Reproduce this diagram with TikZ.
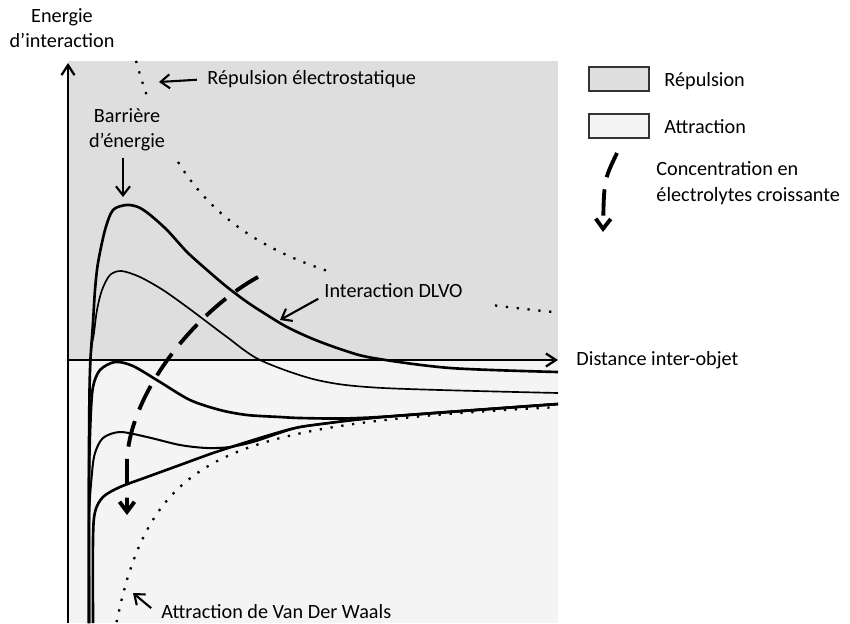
\documentclass[tikz,border=0pt]{standalone}
\usepackage{fontspec}
\setmainfont{Carlito}
\usepackage{tikz}
\usetikzlibrary{arrows.meta,positioning}

\definecolor{repgray}{gray}{0.87}
\definecolor{attgray}{gray}{0.957}

\begin{document}
\begin{tikzpicture}[font=\fontsize{11.5}{14.5}\selectfont]
    \tikzstyle{curvethick} = [line width=1.5pt]
    \tikzstyle{curvemid} = [line width=1.15pt]
    \tikzstyle{curvethin} = [line width=0.95pt]
    \tikzstyle{potdot} = [line width=1.3pt, line cap=butt, dash pattern=on 1.3pt off 4.9pt]
    \tikzstyle{axisline} = [line width=1.3pt, -{Straight Barb[length=2mm,width=2.6mm]}]
    \tikzstyle{annot} = [line width=1.2pt, -{Straight Barb[length=1.8mm,width=2.8mm]}]
    \tikzstyle{concarrow} = [line width=2.2pt, dash pattern=on 15pt off 7pt, -{Straight Barb[length=2mm,width=3mm]}]
    \tikzstyle{legbox} = [rectangle, draw=black!80, line width=0.7pt, minimum width=1.2cm, minimum height=0.48cm]

    \useasboundingbox (-1.36,-5.26) rectangle (15.64,7.2);

    % Regions
    \fill[repgray] (0,0) rectangle (9.8,5.98);
    \fill[attgray] (0,-5.26) rectangle (9.8,0);

    % Electrostatic repulsion and Van der Waals attraction
    \draw[potdot] plot[domain=1.36:1.6, samples=6] (\x, {10/(\x+0.3)-0.04});
    \draw[potdot] plot[domain=2.2:5.24, samples=40] (\x, {10/(\x+0.3)-0.04});
    \draw[potdot] plot[domain=8.54:9.78, samples=10] (\x, {10/(\x+0.3)-0.04});
    \draw[potdot] plot[domain=0.97:9.8, samples=80] (\x, {-4.63/\x-0.47});

    % DLVO curves
    \draw[curvethick] plot[smooth, tension=0.5] coordinates {(0.42,-5.26) (0.42,-1.8) (0.44,-0.2)
        (0.5,0.74) (0.54,1.4) (0.6,1.94) (0.74,2.6) (0.9,3.0) (1.17,3.1) (1.4,3.06) (1.62,2.92)
        (1.98,2.6) (2.38,2.16) (2.78,1.8) (3.18,1.46) (3.58,1.16) (3.98,0.9) (4.38,0.66) (4.9,0.42)
        (5.5,0.2) (6.1,0.04) (7.64,-0.16) (9.8,-0.24)};
    \draw[curvethin] plot[smooth, tension=0.5] coordinates {(0.42,-5.26) (0.42,-1.8) (0.45,0)
        (0.52,0.54) (0.58,1.0) (0.68,1.4) (0.84,1.7) (1.07,1.78) (1.44,1.66) (1.9,1.4) (2.38,1.06)
        (2.78,0.76) (3.18,0.46) (3.84,0) (4.98,-0.4) (6.3,-0.56) (9.8,-0.66)};
    \draw[curvethick] plot[smooth, tension=0.5] coordinates {(0.42,-5.26) (0.42,-2.5) (0.45,-1.2)
        (0.5,-0.54) (0.64,-0.2) (0.94,-0.04) (1.3,-0.12) (1.84,-0.44) (2.44,-0.8) (3.04,-1.0)
        (3.58,-1.1) (4.24,-1.14) (4.64,-1.16) (5.5,-1.17) (6.4,-1.13) (7.6,-1.04) (9.8,-0.88)};
    \draw[curvemid] plot[smooth, tension=0.5] coordinates {(0.42,-5.26) (0.42,-3.2) (0.48,-2.26)
        (0.54,-1.86) (0.7,-1.56) (1.04,-1.44) (1.58,-1.54) (2.24,-1.7) (2.78,-1.76) (3.24,-1.74)
        (3.7,-1.64) (4.24,-1.46) (4.64,-1.34) (5.3,-1.25) (5.8,-1.19) (6.4,-1.13) (7.6,-1.04) (9.8,-0.88)};
    \draw[curvethick] plot[smooth, tension=0.5] coordinates {(0.5,-5.26) (0.5,-3.6) (0.54,-3.04)
        (0.7,-2.74) (1.04,-2.54) (1.58,-2.34) (2.24,-2.1) (2.9,-1.86) (3.58,-1.64) (4.24,-1.44)
        (4.64,-1.34) (5.3,-1.25) (5.8,-1.19) (6.4,-1.13) (7.6,-1.04) (9.8,-0.88)};

    % Axes
    \coordinate (orig) at (0,0);
    \coordinate (ybot) at (0,-5.26);
    \coordinate (ytop) at (0,5.94);
    \coordinate (xend) at (9.8,0);
    \draw[axisline] (ybot) -- (ytop);
    \draw[axisline] (orig) -- (xend);

    % Increasing concentration
    \coordinate (cstart) at (3.8,1.66);
    \coordinate (cend) at (1.18,-3.1);
    \draw[concarrow] (cstart) .. controls (2.6,1.0) and (1.25,-0.6) .. (1.18,-2.0) -- (cend);

    % Labels
    \node[align=center] (ylabel) at (-0.12,6.64) {Energie\\d’interaction};
    \node[anchor=west] (xlabel) at (10.045,0.0) {Distance inter-objet};
    \node[anchor=west] (elec) at (2.665,5.61) {Répulsion électrostatique};
    \node[align=center] (barr) at (1.18,4.6) {Barrière\\d’énergie};
    \node[anchor=west] (dlvo) at (5.005,1.39) {Interaction DLVO};
    \node[anchor=west] (vdw) at (1.745,-5.03) {Attraction de Van Der Waals};

    \coordinate (elecend) at (1.82,5.56);
    \coordinate (barrend) at (1.1,3.26);
    \coordinate (dlvoend) at (4.24,0.8);
    \coordinate (vdwend) at (1.3,-4.66);
    \draw[annot, shorten <=2.5pt] (elec.west) -- (elecend);
    \draw[annot] (barrend |- barr.south) -- (barrend);
    \draw[annot] ([yshift=0.1cm]dlvo.south west) -- (dlvoend);
    \draw[annot, shorten <=3pt] (vdw.west) -- (vdwend);

    % Legend
    \node[legbox, fill=repgray] (legrep) at (11.02,5.62) {};
    \node[legbox, fill=attgray] (legatt) at (11.02,4.68) {};
    \node[anchor=west] (legreptext) at (11.805,5.58) {Répulsion};
    \node[anchor=west] (legatttext) at (11.805,4.66) {Attraction};
    \coordinate (lgstart) at (10.98,4.14);
    \coordinate (lgend) at (10.7,2.56);
    \draw[concarrow] (lgstart) .. controls (10.72,3.6) .. (lgend);
    \node[anchor=west, align=left] (legconc) at (11.645,3.54) {Concentration en\\électrolytes croissante};

\end{tikzpicture}
\end{document}
